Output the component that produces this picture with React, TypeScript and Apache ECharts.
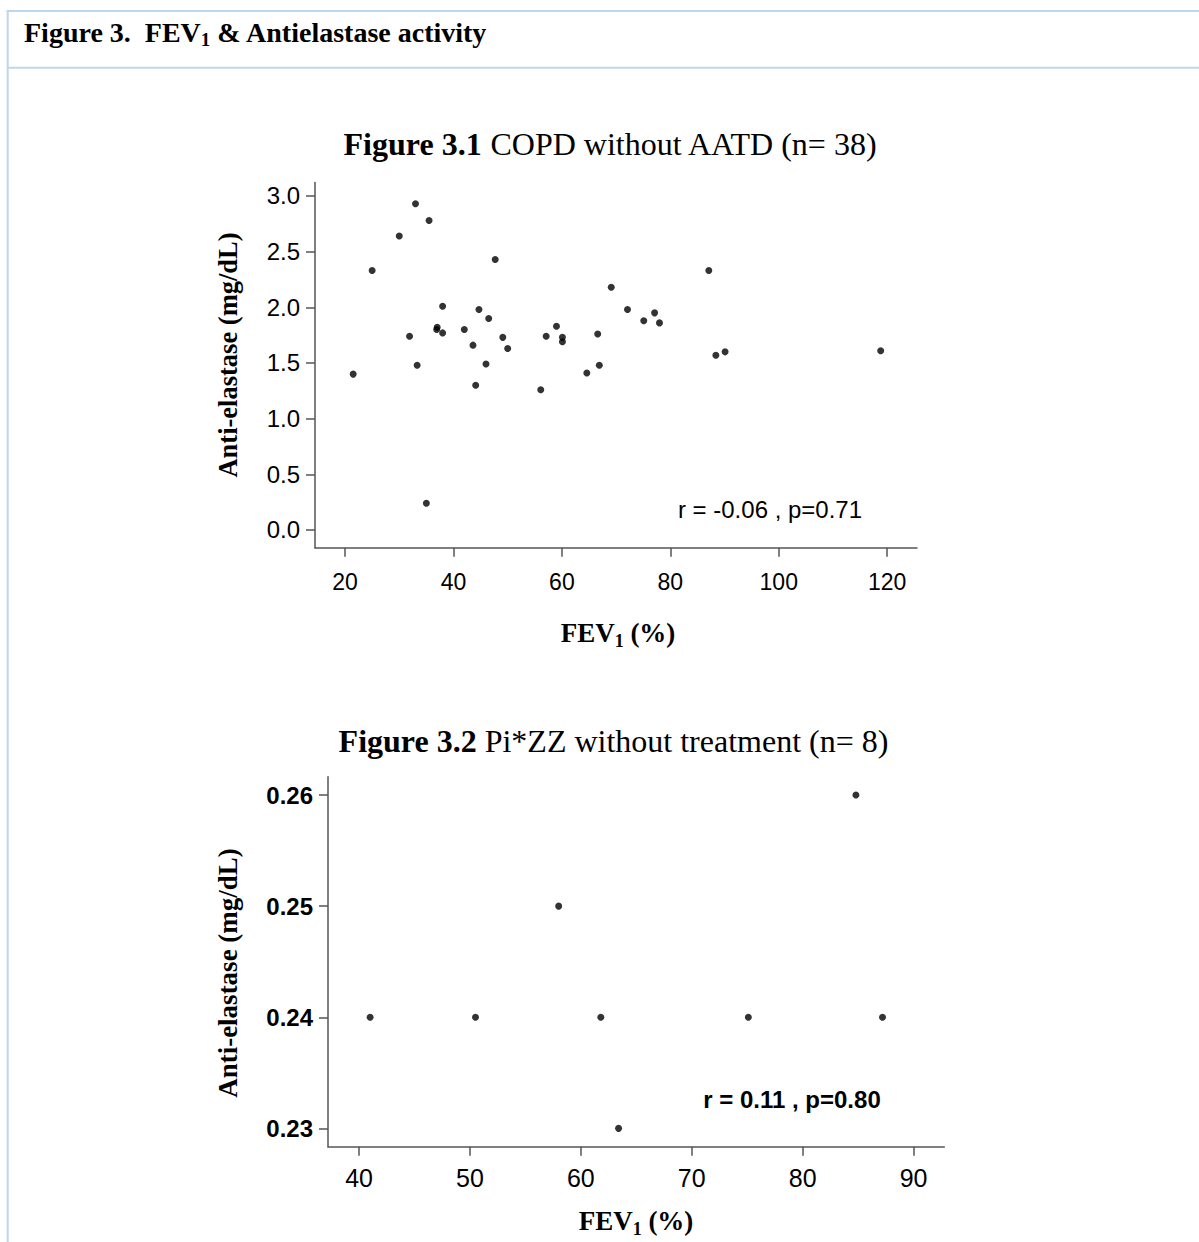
import React, { useEffect, useRef } from "react";
import * as echarts from "echarts";

// Figure 3.1 — COPD without AATD (n = 38)
const fev1A = [21.5, 25.0, 30.0, 33.0, 35.5, 31.9, 33.3, 35.0, 36.9, 37.0, 38.0, 38.0, 42.0, 43.6, 44.1, 44.7, 46.5, 46.0, 47.7, 49.1, 50.0, 56.1, 57.1, 59.0, 60.1, 60.1, 66.6, 66.9, 64.6, 69.1, 72.1, 75.1, 77.1, 78.0, 87.1, 88.4, 90.1, 118.8];
const antiA = [1.40, 2.33, 2.64, 2.93, 2.78, 1.74, 1.48, 0.24, 1.80, 1.82, 2.01, 1.77, 1.80, 1.66, 1.30, 1.98, 1.90, 1.49, 2.43, 1.73, 1.63, 1.26, 1.74, 1.83, 1.73, 1.69, 1.76, 1.48, 1.41, 2.18, 1.98, 1.88, 1.95, 1.86, 2.33, 1.57, 1.60, 1.61];
const xTicksA = [20, 40, 60, 80, 100, 120];
const yTicksA = [0, 0.5, 1.0, 1.5, 2.0, 2.5, 3.0];

// Figure 3.2 — Pi*ZZ without treatment (n = 8)
const fev1B = [41.0, 50.5, 58.0, 61.8, 63.4, 75.1, 84.8, 87.2];
const antiB = [0.24, 0.24, 0.25, 0.24, 0.23, 0.24, 0.26, 0.24];
const xTicksB = [40, 50, 60, 70, 80, 90];
const yTicksB = [0.23, 0.24, 0.25, 0.26];

const SANS = "'Liberation Sans', Arial, Helvetica, sans-serif";
const SERIF = "'Liberation Serif', 'Times New Roman', Times, serif";
const AXIS_COLOR = "#555555";
const BORDER = "#BDD7EE";

export default function App() {
  const ref = useRef<HTMLDivElement>(null);

  useEffect(() => {
    if (!ref.current) return;
    const chart = echarts.init(ref.current, undefined, { renderer: "svg" });

    const axisCommon = {
      splitLine: { show: false },
      axisLine: { show: true, onZero: false, lineStyle: { color: AXIS_COLOR, width: 1.5 } },
      axisTick: { show: true, length: 9, lineStyle: { color: AXIS_COLOR, width: 1.5 } },
    };

    const pairs = (xs: number[], ys: number[]) => xs.map((x, i) => [x, ys[i]]);

    const subTitle = (x: number, y: number) => ({
      type: "text",
      x,
      y,
      style: {
        text: "{b|FEV}{s|1}{b| (%)}",
        align: "center",
        verticalAlign: "middle",
        fill: "#000",
        rich: {
          b: { fontFamily: SERIF, fontWeight: "bold", fontSize: 27, lineHeight: 34, fill: "#000" },
          s: { fontFamily: SERIF, fontWeight: "bold", fontSize: 18, lineHeight: 20, verticalAlign: "bottom", fill: "#000" },
        },
      },
    });

    const yName = (x: number, y: number, size: number) => ({
      type: "text",
      x,
      y,
      rotation: Math.PI / 2,
      style: {
        text: "Anti-elastase (mg/dL)",
        align: "center",
        verticalAlign: "middle",
        fill: "#000",
        font: `bold ${size}px ${SERIF}`,
      },
    });

    const figTitle = (x: number, y: number, bold: string, rest: string) => ({
      type: "text",
      x,
      y,
      style: {
        text: `{b|${bold}}{r| ${rest}}`,
        align: "center",
        verticalAlign: "middle",
        fill: "#000",
        rich: {
          b: { fontFamily: SERIF, fontWeight: "bold", fontSize: 32, fill: "#000" },
          r: { fontFamily: SERIF, fontWeight: "normal", fontSize: 32, fill: "#000" },
        },
      },
    });

    const option: any = {
      animation: false,
      backgroundColor: "#ffffff",
      grid: [
        { left: 315, top: 182.6, width: 602, height: 365.2, containLabel: false },
        { left: 328, top: 776.7, width: 616.3, height: 370, containLabel: false },
      ],
      xAxis: [
        {
          ...axisCommon,
          type: "value",
          gridIndex: 0,
          min: 14.46,
          max: 125.5,
          axisTick: { ...axisCommon.axisTick, customValues: xTicksA },
          axisLabel: {
            customValues: xTicksA,
            margin: 23,
            color: "#000",
            fontFamily: SANS,
            fontSize: 23,
          },
        },
        {
          ...axisCommon,
          type: "value",
          gridIndex: 1,
          min: 37.2,
          max: 92.77,
          axisTick: { ...axisCommon.axisTick, customValues: xTicksB },
          axisLabel: {
            customValues: xTicksB,
            margin: 19,
            color: "#000",
            fontFamily: SANS,
            fontSize: 25,
          },
        },
      ],
      yAxis: [
        {
          ...axisCommon,
          type: "value",
          gridIndex: 0,
          min: -0.16,
          max: 3.12,
          axisTick: { ...axisCommon.axisTick, customValues: yTicksA },
          axisLabel: {
            customValues: yTicksA,
            margin: 15,
            color: "#000",
            fontFamily: SANS,
            fontSize: 24,
            formatter: (v: number) => v.toFixed(1),
          },
        },
        {
          ...axisCommon,
          type: "value",
          gridIndex: 1,
          min: 0.22835,
          max: 0.26165,
          axisTick: { ...axisCommon.axisTick, customValues: yTicksB },
          axisLabel: {
            customValues: yTicksB,
            margin: 15,
            color: "#000",
            fontFamily: SANS,
            fontWeight: "bold",
            fontSize: 24,
            formatter: (v: number) => v.toFixed(2),
          },
        },
      ],
      series: [
        {
          type: "scatter",
          xAxisIndex: 0,
          yAxisIndex: 0,
          data: pairs(fev1A, antiA),
          symbol: "circle",
          symbolSize: 7,
          itemStyle: { color: "#000" },
        },
        {
          type: "scatter",
          xAxisIndex: 1,
          yAxisIndex: 1,
          data: pairs(fev1B, antiB),
          symbol: "circle",
          symbolSize: 7,
          itemStyle: { color: "#000" },
        },
      ],
      graphic: [
        // frame
        { type: "line", shape: { x1: 6.7, y1: 11, x2: 1199, y2: 11 }, style: { stroke: BORDER, lineWidth: 2 } },
        { type: "line", shape: { x1: 7.7, y1: 67.7, x2: 1199, y2: 67.7 }, style: { stroke: BORDER, lineWidth: 2 } },
        { type: "line", shape: { x1: 7.7, y1: 10, x2: 7.7, y2: 1242 }, style: { stroke: BORDER, lineWidth: 2 } },
        // header
        {
          type: "text",
          x: 24,
          y: 32,
          style: {
            text: "{b|Figure 3.\u00a0\u00a0FEV}{s|1}{b| & Antielastase activity}",
            align: "left",
            verticalAlign: "middle",
            fill: "#000",
            rich: {
              b: { fontFamily: SERIF, fontWeight: "bold", fontSize: 28, lineHeight: 34, fill: "#000" },
              s: { fontFamily: SERIF, fontWeight: "bold", fontSize: 19, lineHeight: 20, verticalAlign: "bottom", fill: "#000" },
            },
          },
        },
        figTitle(610.5, 144, "Figure 3.1", "COPD without AATD (n= 38)"),
        figTitle(613.5, 741, "Figure 3.2", "Pi*ZZ without treatment (n= 8)"),
        yName(228, 355, 26.5),
        yName(228, 973, 27),
        subTitle(618, 633),
        subTitle(636, 1221),
        {
          type: "text",
          x: 770,
          y: 509,
          style: {
            text: "r = -0.06 , p=0.71",
            align: "center",
            verticalAlign: "middle",
            fill: "#000",
            font: `24px ${SANS}`,
          },
        },
        {
          type: "text",
          x: 792,
          y: 1099,
          style: {
            text: "r = 0.11 , p=0.80",
            align: "center",
            verticalAlign: "middle",
            fill: "#000",
            font: `bold 24px ${SANS}`,
          },
        },
      ],
    };

    chart.setOption(option);
    return () => chart.dispose();
  }, []);

  return (
    <div
      ref={ref}
      style={{ position: "absolute", left: 0, top: 0, width: 1199, height: 1242, background: "#fff" }}
    />
  );
}
